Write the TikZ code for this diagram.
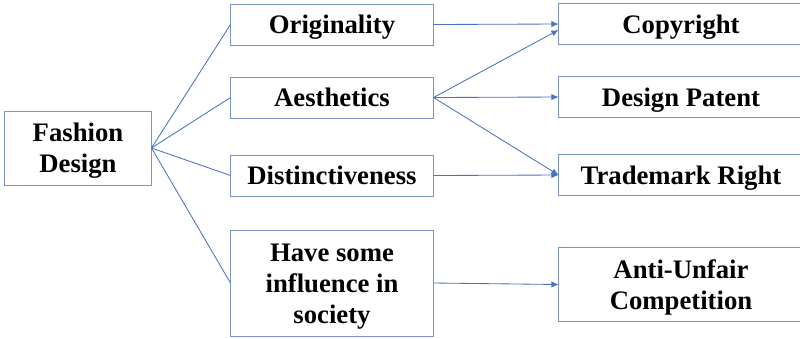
\documentclass[tikz,border=0pt]{standalone}
\usepackage{fontspec}
\setmainfont{Liberation Serif}
\usetikzlibrary{arrows.meta}

\definecolor{boxblue}{RGB}{122,148,198}
\definecolor{lineblue}{RGB}{72,114,196}

% text set a little lower in its box
\newcommand{\btext}[1]{\raisebox{0pt}[\dimexpr\height+4.3pt\relax][\depth]{\begin{tabular}{@{}c@{}}#1\end{tabular}}}

\begin{document}
\begin{tikzpicture}[x=0.025cm, y=-0.025cm,
    box/.style={draw=boxblue, line width=0.7pt, inner sep=0pt,
      font=\bfseries\fontsize{19}{22}\selectfont},
    midbox/.style={box, minimum width=5.05cm, minimum height=1.025cm},
    rightbox/.style={box, minimum width=6.1cm, minimum height=1.025cm},
    link/.style={draw=lineblue, line width=0.6pt},
    arr/.style={link, -{Latex[length=5pt,width=4.5pt]}}]

  \clip (0,0) rectangle (800,338);

  % fashion design
  \node[box, minimum width=3.65cm, minimum height=1.85cm] (fashion) at (78,148) {\btext{Fashion\\Design}};

  % features
  \node[midbox] (orig) at (332,24.5) {\btext{Originality}};
  \node[midbox] (aest) at (332,97.5) {\btext{Aesthetics}};
  \node[midbox] (dist) at (332,175.5) {\btext{Distinctiveness}};
  \node[midbox, minimum height=2.65cm] (infl) at (332,283) {\btext{Have some\\influence in\\society}};

  % rights, cut off at the right edge
  \node[rightbox] (copy) at (681,24) {\btext{Copyright}};
  \node[rightbox] (patent) at (681,97) {\btext{Design Patent}};
  \node[rightbox] (trade) at (681,175) {\btext{Trademark Right}};
  \node[rightbox, minimum height=1.85cm] (unfair) at (681,284.5) {\btext{Anti-Unfair\\Competition}};

  % fashion design to features
  \draw[link] (fashion.east) -- (orig.west);
  \draw[link] (fashion.east) -- (aest.west);
  \draw[link] (fashion.east) -- (dist.west);
  \draw[link] (fashion.east) -- (infl.west);

  % features to rights
  \draw[arr] (orig.east) -- (copy.west);
  \draw[arr] (aest.east) -- ([yshift=-0.15cm]copy.west);
  \draw[arr] (aest.east) -- (patent.west);
  \draw[arr] (aest.east) -- (trade.west);
  \draw[arr] (dist.east) -- (trade.west);
  \draw[arr] (infl.east) -- (unfair.west);

\end{tikzpicture}
\end{document}
